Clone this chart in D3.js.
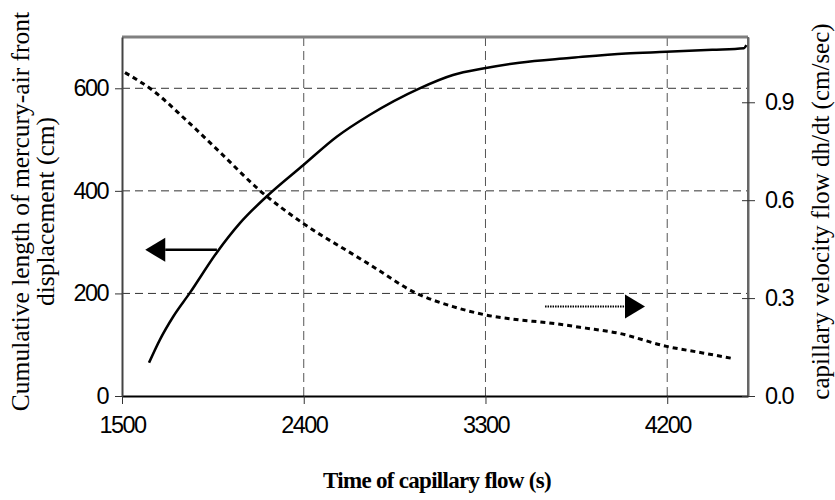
<!DOCTYPE html>
<html>
<head>
<meta charset="utf-8">
<script src="https://cdn.jsdelivr.net/npm/d3@7"></script>
<style>
body { margin: 0; background: #fff; }
</style>
</head>
<body>
<div id="chart"></div>
<script>
var width = 835;
var height = 500;
var margin = {top: 37, right: 87, bottom: 104, left: 122};

// datos
var tiempo_largo = [1634, 1688, 1754, 1836, 1968, 2084, 2216, 2400, 2565, 2726, 2974, 3139, 3295, 3468, 3715, 3995, 4195, 4423, 4580, 4592];
var largo = [65, 110, 155, 201, 279, 337, 389, 451, 506, 548, 600, 626, 639, 650, 659, 668, 671, 675, 678, 684];

var tiempo_vel = [1515, 1655, 1820, 1985, 2182, 2397, 2644, 2726, 2957, 3139, 3295, 3468, 3600, 3797, 3954, 4197, 4375, 4532];
var velocidad = [0.991, 0.935, 0.844, 0.747, 0.630, 0.529, 0.434, 0.403, 0.315, 0.274, 0.249, 0.233, 0.225, 0.208, 0.193, 0.152, 0.132, 0.114];

var ticks_x = [1500, 2400, 3300, 4200];
var ticks_izq = [0, 200, 400, 600];
var ticks_der = [0.0, 0.3, 0.6, 0.9];

// flechas: [desde, hasta, nivel]
var flecha_izq = [1970, 1615, 285];
var flecha_der = [3595, 4090, 0.274];

var svg = d3.select("#chart")
			.append("svg")
			.attr("width", width)
			.attr("height", height);

var x = d3.scaleLinear().domain([1500, 4600]).range([margin.left, width - margin.right]);
var y = d3.scaleLinear().domain([0, 700]).range([height - margin.bottom, margin.top]);
var y2 = d3.scaleLinear().domain([0, 1.1]).range([height - margin.bottom, margin.top]);

var x0 = margin.left, x1 = width - margin.right;
var yb = height - margin.bottom, yt = margin.top;

// grilla
var grilla = svg.append("g");
ticks_izq.slice(1).forEach(function(d) {
	grilla.append("line")
		.attr("x1", x0).attr("x2", x1)
		.attr("y1", y(d)).attr("y2", y(d))
		.attr("stroke", "#333")
		.attr("stroke-dasharray", "8,5")
		.attr("stroke-width", 1);
});
ticks_x.slice(1).forEach(function(d) {
	grilla.append("line")
		.attr("x1", x(d)).attr("x2", x(d))
		.attr("y1", yt).attr("y2", yb)
		.attr("stroke", "#555")
		.attr("stroke-dasharray", "9,5")
		.attr("stroke-width", 1);
});

// marco
svg.append("line").attr("x1", x0).attr("x2", x1).attr("y1", yt).attr("y2", yt)
	.attr("stroke", "#808080").attr("stroke-width", 3);
svg.append("line").attr("x1", x1).attr("x2", x1).attr("y1", yt).attr("y2", yb)
	.attr("stroke", "#666").attr("stroke-width", 2);

// ejes
var fuente_num = "'Liberation Sans', Arial, sans-serif";

var eje_x = svg.append("g")
	.attr("transform", "translate(0," + yb + ")")
	.call(d3.axisBottom(x).tickValues(ticks_x).tickFormat(d3.format("d")).tickSize(8).tickPadding(12).tickSizeOuter(0));
var eje_izq = svg.append("g")
	.attr("transform", "translate(" + x0 + ",0)")
	.call(d3.axisLeft(y).tickValues(ticks_izq).tickSize(7).tickPadding(7).tickSizeOuter(0));
var eje_der = svg.append("g")
	.attr("transform", "translate(" + x1 + ",0)")
	.call(d3.axisRight(y2).tickValues(ticks_der).tickFormat(d3.format(".1f")).tickSize(7).tickPadding(10).tickSizeOuter(0));
eje_der.selectAll(".tick line").attr("x1", -6);

[eje_x, eje_izq, eje_der].forEach(function(g) {
	g.selectAll("text")
		.attr("font-family", fuente_num)
		.attr("font-size", 23.5)
		.attr("letter-spacing", "-1.6px")
		.attr("fill", "#000");
	g.selectAll("line").attr("stroke", "#333");
});
eje_x.select(".domain").attr("stroke", "#000").attr("stroke-width", 2);
eje_izq.select(".domain").attr("stroke", "#444").attr("stroke-width", 2);
eje_der.select(".domain").attr("stroke", "#666").attr("stroke-width", 2);

// curvas
var linea_largo = d3.line()
	.x(function(d, i) { return x(tiempo_largo[i]); })
	.y(function(d) { return y(d); })
	.curve(d3.curveMonotoneX);
var linea_vel = d3.line()
	.x(function(d, i) { return x(tiempo_vel[i]); })
	.y(function(d) { return y2(d); })
	.curve(d3.curveMonotoneX);

svg.append("path")
	.attr("d", linea_largo(largo))
	.attr("fill", "none")
	.attr("stroke", "#000")
	.attr("stroke-width", 2.5);
svg.append("path")
	.attr("d", linea_vel(velocidad))
	.attr("fill", "none")
	.attr("stroke", "#000")
	.attr("stroke-dasharray", "5,4")
	.attr("stroke-width", 3);

// flechas
function flecha(x_desde, x_hasta, yy, punteada) {
	var dir = x_hasta > x_desde ? 1 : -1;
	var base = x_hasta - dir * 20;
	svg.append("line")
		.attr("x1", x_desde).attr("x2", base)
		.attr("y1", yy).attr("y2", yy)
		.attr("stroke", "#000")
		.attr("stroke-width", punteada ? 2 : 2.5)
		.attr("stroke-dasharray", punteada ? "1.5,1" : null);
	svg.append("path")
		.attr("d", "M" + x_hasta + "," + yy + "L" + base + "," + (yy - 12) + "L" + base + "," + (yy + 12) + "Z")
		.attr("fill", "#000");
}
flecha(x(flecha_izq[0]), x(flecha_izq[1]), y(flecha_izq[2]), false);
flecha(x(flecha_der[0]), x(flecha_der[1]), y2(flecha_der[2]), true);

// titulos
var fuente_serif = "'Liberation Serif', 'Times New Roman', serif";
var centro_y = (yt + yb) / 2 - 5;

svg.append("text")
	.attr("transform", "translate(29," + centro_y + ") rotate(-90)")
	.attr("text-anchor", "middle")
	.attr("font-family", fuente_serif)
	.attr("font-size", 25.5)
	.text("Cumulative length of mercury-air front");
svg.append("text")
	.attr("transform", "translate(54," + centro_y + ") rotate(-90)")
	.attr("text-anchor", "middle")
	.attr("font-family", fuente_serif)
	.attr("font-size", 25.5)
	.text("displacement (cm)");
svg.append("text")
	.attr("transform", "translate(829," + centro_y + ") rotate(-90)")
	.attr("text-anchor", "middle")
	.attr("font-family", fuente_serif)
	.attr("font-size", 25)
	.text("capillary velocity flow dh/dt (cm/sec)");
svg.append("text")
	.attr("x", 437)
	.attr("y", 488)
	.attr("text-anchor", "middle")
	.attr("font-family", fuente_serif)
	.attr("font-size", 23)
	.attr("font-weight", "bold")
	.attr("letter-spacing", "-0.7px")
	.text("Time of capillary flow (s)");
</script>
</body>
</html>
